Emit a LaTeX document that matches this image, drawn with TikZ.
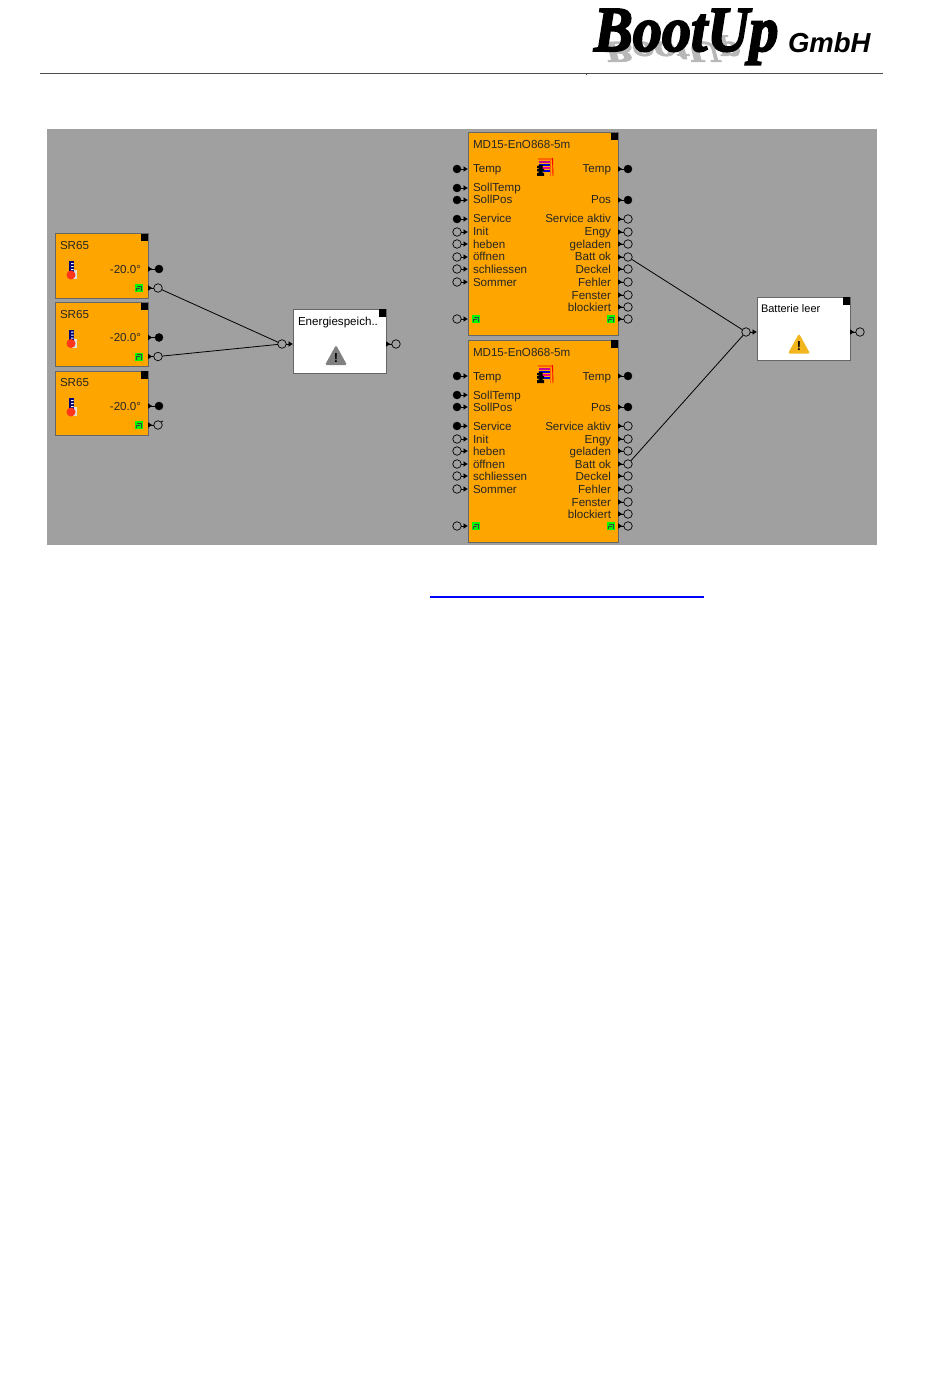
\documentclass[tikz,border=0pt]{standalone}
\usepackage{fontspec}
\setmainfont{Liberation Sans}
\newfontfamily\logofont[BoldItalicFeatures={FakeBold=3}]{Liberation Serif}
\usepackage{xcolor}
\usepackage{tikz}
\usetikzlibrary{arrows.meta, positioning}
\definecolor{panel}{HTML}{A0A0A0}
\definecolor{modul}{HTML}{FFA500}
\definecolor{rahmen}{HTML}{666666}
\definecolor{warngelb}{HTML}{F2B51E}

\begin{document}
\begin{tikzpicture}[
  x=1pt, y=-1pt,
  every node/.style={outer sep=0pt},
  box/.style={draw=rahmen, line width=1pt, anchor=north west, inner sep=0pt},
  srbox/.style={box, fill=modul, minimum width=93pt, minimum height=64pt},
  mdbox/.style={box, fill=modul, minimum width=150pt, minimum height=202pt},
  wbox/.style={box, fill=white, minimum width=93pt, minimum height=64pt},
  corner/.style={fill=black, inner sep=0pt, minimum size=7.5pt, anchor=north east},
  txt/.style={inner sep=0pt, text=black!85, text height=10pt, text depth=2pt, font=\fontsize{11.6}{12}\selectfont},
  pfull/.style={circle, fill=black, draw=black, inner sep=0pt, minimum size=8pt},
  popen/.style={circle, draw=black, line width=.7pt, inner sep=0pt, minimum size=8.5pt},
  stubin/.style={line width=.9pt, -{Latex[length=4.5pt,width=6pt]}},
  stubout/.style={line width=.9pt, {Latex[length=4.5pt,width=6pt,reversed]}-},
  wire/.style={line width=.8pt},
  gbox/.style={fill=green, inner sep=0pt, minimum size=8pt, path picture={
    \draw[black!75, line width=.8pt] ([shift={(1.5,-1)}]path picture bounding box.south west) -- ++(0,-3) -- ++(3,0)
      ([shift={(2,2)}]path picture bounding box.north west) -- ++(4,0) -- ++(0,5);}},
  thermo/.pic={
    \fill[black!12] (1,-1) rectangle (6,8);
    \fill[blue!45!black] (-2.5,-10) rectangle (2.5,1);
    \fill[white] (0,-8) rectangle (2.5,-7) (0,-5) rectangle (2.5,-4) (0,-2) rectangle (2.5,-1);
    \fill[red!75!orange!90!white] (0,4) circle (4.5);
  },
  heizung/.pic={
    \fill[orange!80!red] (-7,-10) rectangle (7,-8);
    \draw[red, line width=.9pt] (7.5,-10) -- (8,8);
    \draw[orange!80!red, line width=.9pt] (5.5,-8) -- (5.5,8);
    \fill[magenta!80!blue] (-6,-7) rectangle (5,-5);
    \fill[blue!80!black] (-6,-4) rectangle (5,-2);
    \fill[magenta] (-6,-1) rectangle (5,1);
    \fill[blue!80!black] (-2,2) rectangle (5,4);
    \fill[black] (-8,-2) rectangle (-5,0) (-8,1) rectangle (-1,3.5) (-6.5,-3) rectangle (-2.5,8) (-8,5) rectangle (-1,8);
  },
  warn/.pic={
    \fill[pic actions, rounded corners=1.5pt] (-11,10) -- (0,-10) -- (11,10) -- cycle;
    \node[text=black, font=\fontsize{13}{13}\bfseries\selectfont] (-mark) at (0,3) {!};
  }
]
\useasboundingbox (0,0) rectangle (950,1388);

% header
\node[text=black!28, anchor=base west, inner sep=0pt] (logoback) at (604,42) {\logofont\bfseries\itshape\fontsize{60}{60}\selectfont\scalebox{.72}[-.5]{BootUp}};
\node[anchor=base west, inner sep=0pt] (logo) at (594,51) {\logofont\bfseries\itshape\fontsize{64}{64}\selectfont\scalebox{.91}[1]{BootUp}};
\node[anchor=west, inner sep=0pt] (gmbh) at (788,43) {\itshape\fontsize{27.5}{27.5}\bfseries\selectfont GmbH};
\coordinate (rulea) at (40,73.5);
\coordinate (ruleb) at (883,73.5);
\coordinate (rulec) at (586.5,75.5);
\draw[black!70, line width=.9pt] (rulea) -- (ruleb);
\draw[black!70, line width=.6pt] (rulec |- rulea) -- (rulec);

% panel
\fill[panel] (47,129) rectangle (877,545);

% temperature modules
\node[srbox] (sr1) at (55,234) {};
\node[srbox, below=4.5pt of sr1] (sr2) {};
\node[srbox, below=4.5pt of sr2] (sr3) {};
\foreach \m in {sr1,sr2,sr3} {
  \node[corner] (\m c) at (\m.north east) {};
  \node[txt, anchor=west] (\m t) at ([shift={(5,11.5)}]\m.north west) {SR65};
  \node[txt, anchor=east] (\m v) at ([shift={(-7,35)}]\m.north east) {-20.0°};
  \node[gbox] (\m g) at ([shift={(-9,54)}]\m.north east) {};
  \pic at ([shift={(16,37)}]\m.north west) {thermo};
  \node[pfull] (\m p) at ([shift={(11,35)}]\m.north east) {};
  \node[popen] (\m o) at ([shift={(10,54)}]\m.north east) {};
  \draw[stubout] (\m p -| \m.east) -- (\m p);
  \draw[stubout] (\m o -| \m.east) -- (\m o);
}
\draw[line width=.7pt] (sr3o.north east) -- ++(2,-1);

% shading blinds
\node[mdbox] (md1) at (468,133) {};
\node[mdbox, below=5pt of md1] (md2) {};
\foreach \m in {md1,md2} {
  \node[corner] (\m c) at (\m.north east) {};
  \node[txt, anchor=west] (\m t) at ([shift={(5,12)}]\m.north west) {MD15-EnO868-5m};
  \pic at ([shift={(77,35)}]\m.north west) {heizung};
  \node[gbox] (\m gl) at ([shift={(8,186)}]\m.north west) {};
  \node[gbox] (\m gr) at ([shift={(-7,186)}]\m.north east) {};
  \foreach \yy/\nm/\txt/\st in {36/temp/Temp/pfull, 55/stemp/SollTemp/pfull, 67/spos/SollPos/pfull,
      86/serv/Service/pfull, 99/init/Init/popen, 111/heben/heben/popen, 124/offnen/öffnen/popen,
      136/schl/schliessen/popen, 149/somm/Sommer/popen, 186/gin//popen} {
    \node[\st] (\m l\nm) at ([shift={(-11,\yy)}]\m.north west) {};
    \node[txt, anchor=west] (\m lt\nm) at ([shift={(5,\yy)}]\m.north west) {\txt};
    \draw[stubin] (\m l\nm) -- (\m l\nm -| \m.west);
  }
  \foreach \yy/\nm/\txt/\st in {36/temp/Temp/pfull, 67/pos/Pos/pfull, 86/akt/Service aktiv/popen,
      99/engy/Engy/popen, 111/gel/geladen/popen, 124/batt/Batt ok/popen, 136/deck/Deckel/popen,
      149/fehl/Fehler/popen, 162/fens/Fenster/popen, 174/block/blockiert/popen, 186/gout//popen} {
    \node[\st] (\m r\nm) at ([shift={(10,\yy)}]\m.north east) {};
    \node[txt, anchor=east] (\m rt\nm) at ([shift={(-7,\yy)}]\m.north east) {\txt};
    \draw[stubout] (\m r\nm -| \m.east) -- (\m r\nm);
  }
}

% logic blocks
\node[wbox] (es) at (293,309) {};
\node[wbox, minimum height=63pt] (bl) at (757,297) {};
\node[corner] (esc) at (es.north east) {};
\node[corner] (blc) at (bl.north east) {};
\node[txt, anchor=west, text=black] (est) at ([shift={(5,12)}]es.north west) {Energiespeich..};
\node[txt, anchor=west, text=black, font=\fontsize{11}{12}\selectfont] (blt) at ([shift={(4,11)}]bl.north west) {Batterie leer};
\pic[fill=black!50] (esw) at (336,355) {warn};
\pic[fill=warngelb] (blw) at (799,343.5) {warn};
\node[popen] (esi) at ([shift={(-11,3)}]es.west) {};
\node[popen] (eso) at ([shift={(10,3)}]es.east) {};
\node[popen] (bli) at ([shift={(-11,3.5)}]bl.west) {};
\node[popen] (blo) at ([shift={(10,3.5)}]bl.east) {};
\draw[stubin] (esi) -- (esi -| es.west);
\draw[stubin] (bli) -- (bli -| bl.west);
\draw[stubout] (eso -| es.east) -- (eso);
\draw[stubout] (blo -| bl.east) -- (blo);

% links
\draw[wire] (sr1o) -- (esi);
\draw[wire] (sr2o) -- (esi);
\draw[wire] (md1rbatt) -- (bli);
\draw[wire] (md2rbatt) -- (bli);

% underline below the panel
\coordinate (linka) at (430,597);
\coordinate (linkb) at (704,597);
\draw[blue, line width=1.6pt] (linka) -- (linkb);
\end{tikzpicture}
\end{document}
